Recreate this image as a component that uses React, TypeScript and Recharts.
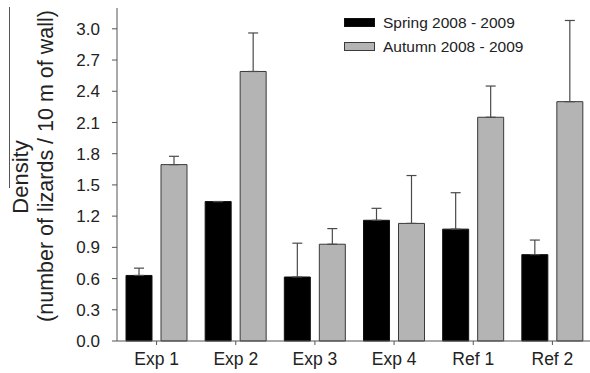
import React from 'react';
import {
  BarChart,
  Bar,
  XAxis,
  YAxis,
  ErrorBar,
  Legend,
} from 'recharts';

const FONT = '"Liberation Sans", Arial, sans-serif';

const categories = ['Exp 1', 'Exp 2', 'Exp 3', 'Exp 4', 'Ref 1', 'Ref 2'];
const spring = [0.63, 1.34, 0.615, 1.16, 1.075, 0.83];
const springErr = [0.07, 0, 0.325, 0.115, 0.35, 0.14];
const autumn = [1.695, 2.59, 0.93, 1.13, 2.15, 2.3];
const autumnErr = [0.08, 0.37, 0.15, 0.46, 0.3, 0.78];
const yTicks = [0, 0.3, 0.6, 0.9, 1.2, 1.5, 1.8, 2.1, 2.4, 2.7, 3.0];

const series = [
  { key: 'spring', name: 'Spring 2008 - 2009', fill: '#000000', stroke: '#111111' },
  { key: 'autumn', name: 'Autumn 2008 - 2009', fill: '#b4b4b4', stroke: '#3a3a3a' },
];

// one-sided (upward) error bars: [below, above]
const data = categories.map((name, i) => ({
  name,
  spring: spring[i],
  springErr: [0, springErr[i]],
  autumn: autumn[i],
  autumnErr: [0, autumnErr[i]],
}));

function YLabel() {
  return (
    <g fontFamily={FONT} fill="#222">
      <line x1={9.5} y1={7} x2={9.5} y2={188} stroke="#555" strokeWidth={1} />
      <text
        x={27.5}
        y={177}
        fontSize={22}
        textAnchor="middle"
        transform="rotate(-90, 27.5, 177)"
      >
        Density
      </text>
      <text
        x={53}
        y={166}
        fontSize={21.5}
        textAnchor="middle"
        transform="rotate(-90, 53, 166)"
      >
        (number of lizards / 10 m of wall)
      </text>
    </g>
  );
}

function LegendBox() {
  return (
    <div style={{ fontFamily: FONT, fontSize: 15.5, color: '#222', lineHeight: '23.5px' }}>
      {series.map((s) => (
        <div key={s.key} style={{ display: 'flex', alignItems: 'center', whiteSpace: 'nowrap' }}>
          <span
            style={{
              display: 'inline-block',
              width: 29,
              height: 7,
              background: s.fill,
              border: `1px solid ${s.stroke}`,
              marginRight: 8,
            }}
          />
          {s.name}
        </div>
      ))}
    </div>
  );
}

export default function App() {
  return (
    <div
      style={{
        position: 'absolute',
        left: 0,
        top: 0,
        width: 590,
        height: 373,
        overflow: 'hidden',
        background: '#fff',
      }}
    >
      <BarChart
        width={600}
        height={373}
        data={data}
        margin={{ top: 8, right: 8, bottom: 0, left: 0 }}
        barSize={26}
        barGap={9}
      >
        <XAxis
          dataKey="name"
          height={32}
          interval={0}
          tickSize={4}
          tickMargin={8}
          tick={{ fill: '#222', fontSize: 17.5, fontFamily: FONT }}
          axisLine={{ stroke: '#555' }}
          tickLine={{ stroke: '#555' }}
        />
        <YAxis
          type="number"
          width={117}
          domain={[0, 3.2]}
          ticks={yTicks}
          tickFormatter={(v: number) => v.toFixed(1)}
          tickSize={5}
          tickMargin={12}
          tick={{ fill: '#222', fontSize: 17, fontFamily: FONT }}
          axisLine={{ stroke: '#555' }}
          tickLine={{ stroke: '#555' }}
          label={<YLabel />}
        />
        <Legend
          layout="vertical"
          align="center"
          verticalAlign="middle"
          content={<LegendBox />}
          wrapperStyle={{ left: 344, top: 11, width: 240, height: 50 }}
        />
        {series.map((s) => (
          <Bar
            key={s.key}
            dataKey={s.key}
            name={s.name}
            fill={s.fill}
            stroke={s.stroke}
            strokeWidth={1}
            isAnimationActive={false}
          >
            <ErrorBar
              dataKey={`${s.key}Err`}
              direction="y"
              width={5}
              stroke="#4a4a4a"
              strokeWidth={1.2}
              isAnimationActive={false}
            />
          </Bar>
        ))}
      </BarChart>
    </div>
  );
}
